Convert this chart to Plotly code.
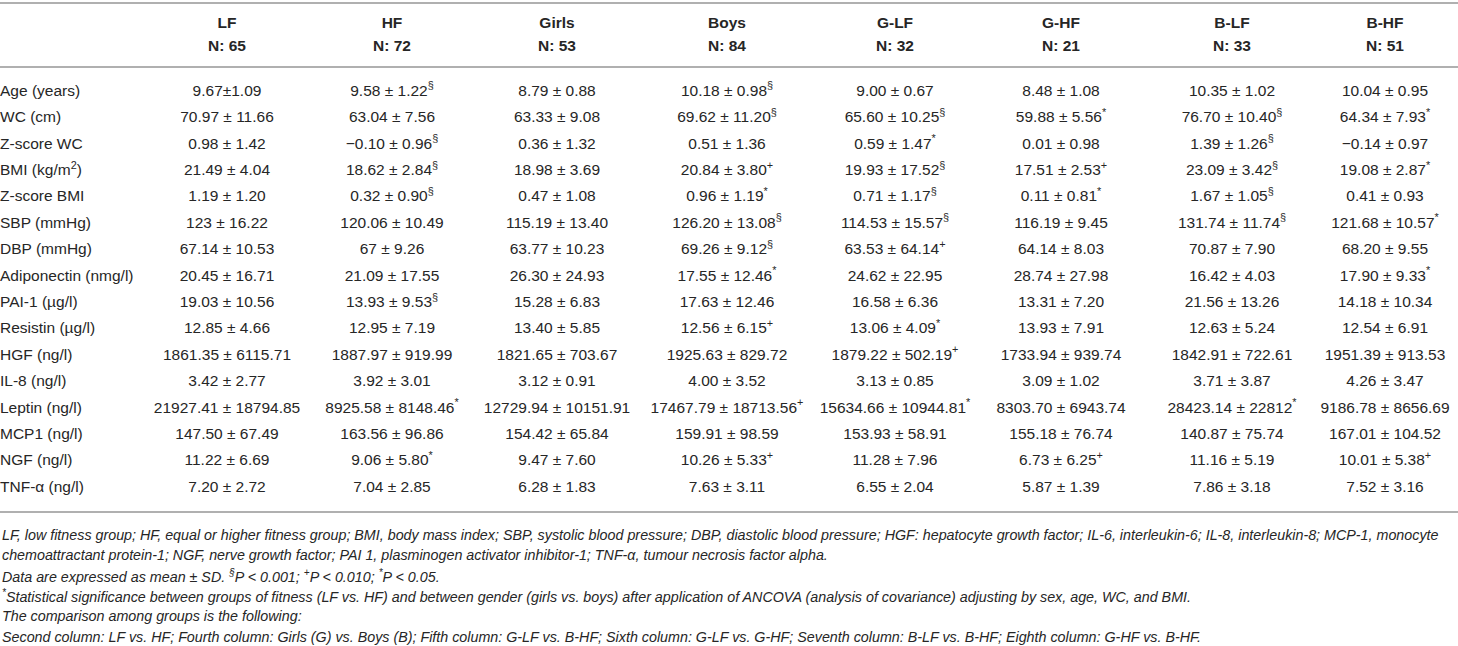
import plotly.graph_objects as go

# row labels of the table
row_labels = ["Age (years)", "WC (cm)", "Z-score WC", "BMI (kg/m<sup>2</sup>)", "Z-score BMI",
              "SBP (mmHg)", "DBP (mmHg)", "Adiponectin (nmg/l)", "PAI-1 (µg/l)", "Resistin (µg/l)",
              "HGF (ng/l)", "IL-8 (ng/l)", "Leptin (ng/l)", "MCP1 (ng/l)", "NGF (ng/l)", "TNF-α (ng/l)"]

groups = ["LF", "HF", "Girls", "Boys", "G-LF", "G-HF", "B-LF", "B-HF"]
group_n = [65, 72, 53, 84, 32, 21, 33, 51]

# mean ± SD per group, significance marker in a separate list
lf = ["9.67±1.09", "70.97 ± 11.66", "0.98 ± 1.42", "21.49 ± 4.04", "1.19 ± 1.20", "123 ± 16.22",
      "67.14 ± 10.53", "20.45 ± 16.71", "19.03 ± 10.56", "12.85 ± 4.66", "1861.35 ± 6115.71",
      "3.42 ± 2.77", "21927.41 ± 18794.85", "147.50 ± 67.49", "11.22 ± 6.69", "7.20 ± 2.72"]
lf_sig = [""] * 16
hf = ["9.58 ± 1.22", "63.04 ± 7.56", "−0.10 ± 0.96", "18.62 ± 2.84", "0.32 ± 0.90", "120.06 ± 10.49",
      "67 ± 9.26", "21.09 ± 17.55", "13.93 ± 9.53", "12.95 ± 7.19", "1887.97 ± 919.99",
      "3.92 ± 3.01", "8925.58 ± 8148.46", "163.56 ± 96.86", "9.06 ± 5.80", "7.04 ± 2.85"]
hf_sig = ["§", "", "§", "§", "§", "", "", "", "§", "", "", "", "*", "", "*", ""]
girls = ["8.79 ± 0.88", "63.33 ± 9.08", "0.36 ± 1.32", "18.98 ± 3.69", "0.47 ± 1.08", "115.19 ± 13.40",
         "63.77 ± 10.23", "26.30 ± 24.93", "15.28 ± 6.83", "13.40 ± 5.85", "1821.65 ± 703.67",
         "3.12 ± 0.91", "12729.94 ± 10151.91", "154.42 ± 65.84", "9.47 ± 7.60", "6.28 ± 1.83"]
girls_sig = [""] * 16
boys = ["10.18 ± 0.98", "69.62 ± 11.20", "0.51 ± 1.36", "20.84 ± 3.80", "0.96 ± 1.19", "126.20 ± 13.08",
        "69.26 ± 9.12", "17.55 ± 12.46", "17.63 ± 12.46", "12.56 ± 6.15", "1925.63 ± 829.72",
        "4.00 ± 3.52", "17467.79 ± 18713.56", "159.91 ± 98.59", "10.26 ± 5.33", "7.63 ± 3.11"]
boys_sig = ["§", "§", "", "+", "*", "§", "§", "*", "", "+", "", "", "+", "", "+", ""]
g_lf = ["9.00 ± 0.67", "65.60 ± 10.25", "0.59 ± 1.47", "19.93 ± 17.52", "0.71 ± 1.17", "114.53 ± 15.57",
        "63.53 ± 64.14", "24.62 ± 22.95", "16.58 ± 6.36", "13.06 ± 4.09", "1879.22 ± 502.19",
        "3.13 ± 0.85", "15634.66 ± 10944.81", "153.93 ± 58.91", "11.28 ± 7.96", "6.55 ± 2.04"]
g_lf_sig = ["", "§", "*", "§", "§", "§", "+", "", "", "*", "+", "", "*", "", "", ""]
g_hf = ["8.48 ± 1.08", "59.88 ± 5.56", "0.01 ± 0.98", "17.51 ± 2.53", "0.11 ± 0.81", "116.19 ± 9.45",
        "64.14 ± 8.03", "28.74 ± 27.98", "13.31 ± 7.20", "13.93 ± 7.91", "1733.94 ± 939.74",
        "3.09 ± 1.02", "8303.70 ± 6943.74", "155.18 ± 76.74", "6.73 ± 6.25", "5.87 ± 1.39"]
g_hf_sig = ["", "*", "", "+", "*", "", "", "", "", "", "", "", "", "", "+", ""]
b_lf = ["10.35 ± 1.02", "76.70 ± 10.40", "1.39 ± 1.26", "23.09 ± 3.42", "1.67 ± 1.05", "131.74 ± 11.74",
        "70.87 ± 7.90", "16.42 ± 4.03", "21.56 ± 13.26", "12.63 ± 5.24", "1842.91 ± 722.61",
        "3.71 ± 3.87", "28423.14 ± 22812", "140.87 ± 75.74", "11.16 ± 5.19", "7.86 ± 3.18"]
b_lf_sig = ["", "§", "§", "§", "§", "§", "", "", "", "", "", "", "*", "", "", ""]
b_hf = ["10.04 ± 0.95", "64.34 ± 7.93", "−0.14 ± 0.97", "19.08 ± 2.87", "0.41 ± 0.93", "121.68 ± 10.57",
        "68.20 ± 9.55", "17.90 ± 9.33", "14.18 ± 10.34", "12.54 ± 6.91", "1951.39 ± 913.53",
        "4.26 ± 3.47", "9186.78 ± 8656.69", "167.01 ± 104.52", "10.01 ± 5.38", "7.52 ± 3.16"]
b_hf_sig = ["", "*", "", "*", "", "*", "", "*", "", "", "", "", "", "", "+", ""]

footnotes = [
    "LF, low fitness group; HF, equal or higher fitness group; BMI, body mass index; SBP, systolic blood pressure; "
    "DBP, diastolic blood pressure; HGF: hepatocyte growth factor; IL-6, interleukin-6; IL-8, interleukin-8; MCP-1, monocyte",
    "chemoattractant protein-1; NGF, nerve growth factor; PAI 1, plasminogen activator inhibitor-1; "
    "TNF-α, tumour necrosis factor alpha.",
    "Data are expressed as mean ± SD. <sup>§</sup>P < 0.001; <sup>+</sup>P < 0.010; <sup>*</sup>P < 0.05.",
    "<sup>*</sup>Statistical significance between groups of fitness (LF vs. HF) and between gender (girls vs. boys) "
    "after application of ANCOVA (analysis of covariance) adjusting by sex, age, WC, and BMI.",
    "The comparison among groups is the following:",
    "Second column: LF vs. HF; Fourth column: Girls (G) vs. Boys (B); Fifth column: G-LF vs. B-HF; "
    "Sixth column: G-LF vs. G-HF; Seventh column: B-LF vs. B-HF; Eighth column: G-HF vs. B-HF.",
]

columns = [(lf, lf_sig), (hf, hf_sig), (girls, girls_sig), (boys, boys_sig),
           (g_lf, g_lf_sig), (g_hf, g_hf_sig), (b_lf, b_lf_sig), (b_hf, b_hf_sig)]

# layout: x in pixels, y in table rows
W, H = 1458, 646
col_x = [227, 392, 557, 727, 895, 1061, 1232, 1385]
row0_px, row_px = 92, 26.4


def ypx(p):
    return (p - row0_px) / row_px


FONT = "Liberation Sans"
TXT = "#262626"
LINE = "#b0b0b0"
SIZE = 15.5
rows = list(range(len(row_labels)))

fig = go.Figure()

fig.add_trace(go.Scatter(x=[0] * len(rows), y=rows, mode="text", text=row_labels,
                         textposition="middle right", hoverinfo="skip",
                         textfont=dict(family=FONT, size=SIZE, color=TXT)))

for i, (vals, sig) in enumerate(columns):
    cells = [v + (f"<sup>{s}</sup>" if s else "") for v, s in zip(vals, sig)]
    fig.add_trace(go.Scatter(x=[col_x[i]] * len(rows), y=rows, mode="text", text=cells,
                             textposition="middle center", hoverinfo="skip",
                             textfont=dict(family=FONT, size=SIZE, color=TXT)))

fig.add_trace(go.Scatter(x=col_x, y=[ypx(24)] * len(groups), mode="text",
                         text=[f"<b>{g}</b>" for g in groups], hoverinfo="skip",
                         textfont=dict(family=FONT, size=SIZE, color=TXT)))
fig.add_trace(go.Scatter(x=col_x, y=[ypx(47)] * len(groups), mode="text",
                         text=[f"<b>N: {n}</b>" for n in group_n], hoverinfo="skip",
                         textfont=dict(family=FONT, size=SIZE, color=TXT)))

for p in (3, 67, 512):
    fig.add_shape(type="line", xref="paper", x0=0, x1=1, yref="y", y0=ypx(p), y1=ypx(p),
                  line=dict(color=LINE, width=2))

for k, t in enumerate(footnotes):
    fig.add_annotation(text=f"<i>{t}</i>", xref="paper", yref="y", x=0, y=ypx(535 + 20.3 * k),
                       xanchor="left", yanchor="middle", showarrow=False, align="left",
                       font=dict(family=FONT, size=14.3, color=TXT))

fig.update_layout(width=W, height=H, margin=dict(l=0, r=0, t=0, b=0),
                  paper_bgcolor="white", plot_bgcolor="white", showlegend=False,
                  xaxis=dict(range=[0, W], visible=False, fixedrange=True),
                  yaxis=dict(range=[ypx(H), ypx(0)], visible=False, fixedrange=True))

fig.write_html("out.html", config={"displayModeBar": False},
               post_script="document.body.style.margin = '0';")
